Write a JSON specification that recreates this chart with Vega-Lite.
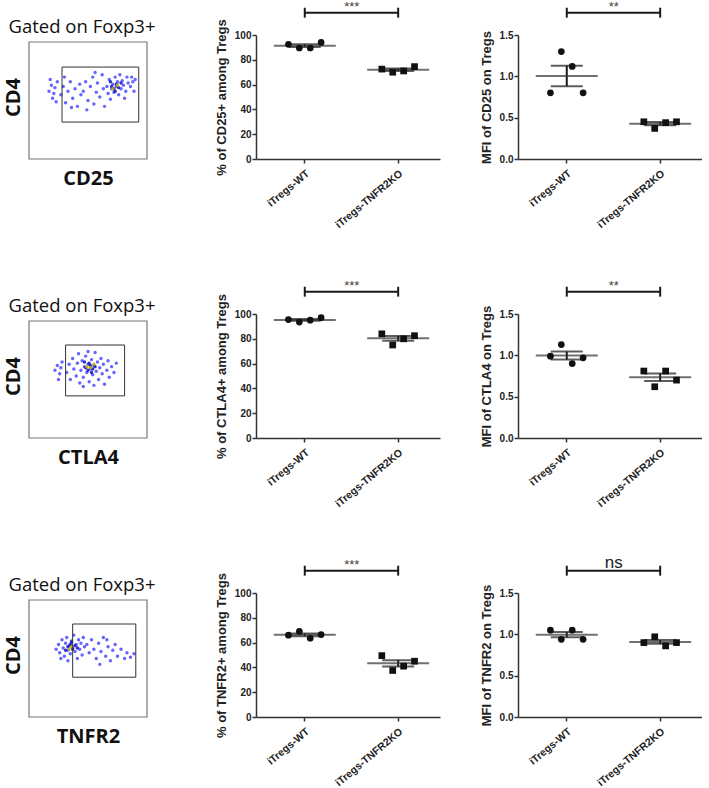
{
"$schema": "https://vega.github.io/schema/vega-lite/v6.json",
"padding": {"left": 3, "top": 0, "right": 0, "bottom": 0},
"background": "white",
"config": {
 "view": {"stroke": null},
 "font": "Liberation Sans",
 "axis": {"grid": false, "labelOverlap": false, "domainColor": "#333", "domainWidth": 1.5, "tickColor": "#333", "tickWidth": 1.5, "tickSize": 4, "labelFont": "Liberation Sans", "labelFontWeight": "bold", "labelFontSize": 10, "labelColor": "#222", "labelPadding": 1, "titleFont": "Liberation Sans", "titleFontSize": 13, "titleFontWeight": "bold", "titleColor": "#222", "titlePadding": 6}
},
"datasets": {
 "stats": [
  {"panel":"CD25pct","group":"iTregs-WT","rep":"a","v":92.5},{"panel":"CD25pct","group":"iTregs-WT","rep":"b","v":89.5},{"panel":"CD25pct","group":"iTregs-WT","rep":"c","v":89.5},{"panel":"CD25pct","group":"iTregs-WT","rep":"d","v":94},
  {"panel":"CD25pct","group":"iTregs-TNFR2KO","rep":"a","v":72.5},{"panel":"CD25pct","group":"iTregs-TNFR2KO","rep":"b","v":70},{"panel":"CD25pct","group":"iTregs-TNFR2KO","rep":"c","v":71},{"panel":"CD25pct","group":"iTregs-TNFR2KO","rep":"d","v":74.5},
  {"panel":"CD25mfi","group":"iTregs-WT","rep":"a","v":0.80},{"panel":"CD25mfi","group":"iTregs-WT","rep":"b","v":1.30},{"panel":"CD25mfi","group":"iTregs-WT","rep":"c","v":1.12},{"panel":"CD25mfi","group":"iTregs-WT","rep":"d","v":0.80},
  {"panel":"CD25mfi","group":"iTregs-TNFR2KO","rep":"a","v":0.45},{"panel":"CD25mfi","group":"iTregs-TNFR2KO","rep":"b","v":0.37},{"panel":"CD25mfi","group":"iTregs-TNFR2KO","rep":"c","v":0.44},{"panel":"CD25mfi","group":"iTregs-TNFR2KO","rep":"d","v":0.45},
  {"panel":"CTLA4pct","group":"iTregs-WT","rep":"a","v":95.5},{"panel":"CTLA4pct","group":"iTregs-WT","rep":"b","v":93.5},{"panel":"CTLA4pct","group":"iTregs-WT","rep":"c","v":95},{"panel":"CTLA4pct","group":"iTregs-WT","rep":"d","v":97},
  {"panel":"CTLA4pct","group":"iTregs-TNFR2KO","rep":"a","v":84},{"panel":"CTLA4pct","group":"iTregs-TNFR2KO","rep":"b","v":75},{"panel":"CTLA4pct","group":"iTregs-TNFR2KO","rep":"c","v":80},{"panel":"CTLA4pct","group":"iTregs-TNFR2KO","rep":"d","v":82.5},
  {"panel":"CTLA4mfi","group":"iTregs-WT","rep":"a","v":0.99},{"panel":"CTLA4mfi","group":"iTregs-WT","rep":"b","v":1.13},{"panel":"CTLA4mfi","group":"iTregs-WT","rep":"c","v":0.90},{"panel":"CTLA4mfi","group":"iTregs-WT","rep":"d","v":0.97},
  {"panel":"CTLA4mfi","group":"iTregs-TNFR2KO","rep":"a","v":0.81},{"panel":"CTLA4mfi","group":"iTregs-TNFR2KO","rep":"b","v":0.62},{"panel":"CTLA4mfi","group":"iTregs-TNFR2KO","rep":"c","v":0.81},{"panel":"CTLA4mfi","group":"iTregs-TNFR2KO","rep":"d","v":0.70},
  {"panel":"TNFR2pct","group":"iTregs-WT","rep":"a","v":66},{"panel":"TNFR2pct","group":"iTregs-WT","rep":"b","v":69},{"panel":"TNFR2pct","group":"iTregs-WT","rep":"c","v":63.5},{"panel":"TNFR2pct","group":"iTregs-WT","rep":"d","v":66.5},
  {"panel":"TNFR2pct","group":"iTregs-TNFR2KO","rep":"a","v":49.5},{"panel":"TNFR2pct","group":"iTregs-TNFR2KO","rep":"b","v":37.5},{"panel":"TNFR2pct","group":"iTregs-TNFR2KO","rep":"c","v":41},{"panel":"TNFR2pct","group":"iTregs-TNFR2KO","rep":"d","v":45},
  {"panel":"TNFR2mfi","group":"iTregs-WT","rep":"a","v":1.05},{"panel":"TNFR2mfi","group":"iTregs-WT","rep":"b","v":0.94},{"panel":"TNFR2mfi","group":"iTregs-WT","rep":"c","v":1.05},{"panel":"TNFR2mfi","group":"iTregs-WT","rep":"d","v":0.94},
  {"panel":"TNFR2mfi","group":"iTregs-TNFR2KO","rep":"a","v":0.90},{"panel":"TNFR2mfi","group":"iTregs-TNFR2KO","rep":"b","v":0.97},{"panel":"TNFR2mfi","group":"iTregs-TNFR2KO","rep":"c","v":0.86},{"panel":"TNFR2mfi","group":"iTregs-TNFR2KO","rep":"d","v":0.90}
 ],
 "sig": [
  {"panel":"CD25pct","group":"iTregs-WT","sig":"***"},{"panel":"CD25pct","group":"iTregs-TNFR2KO","sig":"***"},
  {"panel":"CD25mfi","group":"iTregs-WT","sig":"**"},{"panel":"CD25mfi","group":"iTregs-TNFR2KO","sig":"**"},
  {"panel":"CTLA4pct","group":"iTregs-WT","sig":"***"},{"panel":"CTLA4pct","group":"iTregs-TNFR2KO","sig":"***"},
  {"panel":"CTLA4mfi","group":"iTregs-WT","sig":"**"},{"panel":"CTLA4mfi","group":"iTregs-TNFR2KO","sig":"**"},
  {"panel":"TNFR2pct","group":"iTregs-WT","sig":"***"},{"panel":"TNFR2pct","group":"iTregs-TNFR2KO","sig":"***"},
  {"panel":"TNFR2mfi","group":"iTregs-WT","sig":"ns"},{"panel":"TNFR2mfi","group":"iTregs-TNFR2KO","sig":"ns"}
 ],
 "gates": [
  {"f":"CD25","x1":28,"x2":93,"y1":31.6,"y2":78.6},
  {"f":"CTLA4","x1":31,"x2":81,"y1":36,"y2":79.5},
  {"f":"TNFR2","x1":37,"x2":90.5,"y1":34,"y2":79.5}
 ],
 "flow": [
  {"f":"CD25","x":17,"y":58,"d":1},{"f":"CD25","x":19,"y":63,"d":1},{"f":"CD25","x":21,"y":56,"d":1},{"f":"CD25","x":22,"y":61,"d":1},{"f":"CD25","x":20,"y":52,"d":1},{"f":"CD25","x":24,"y":66,"d":1},{"f":"CD25","x":18,"y":68,"d":1},{"f":"CD25","x":23,"y":49,"d":1},{"f":"CD25","x":27,"y":55,"d":1},{"f":"CD25","x":29,"y":62,"d":1},{"f":"CD25","x":31,"y":48,"d":1},{"f":"CD25","x":33,"y":58,"d":1},{"f":"CD25","x":35,"y":66,"d":1},{"f":"CD25","x":37,"y":52,"d":1},{"f":"CD25","x":39,"y":60,"d":1},{"f":"CD25","x":41,"y":45,"d":1},{"f":"CD25","x":43,"y":64,"d":1},{"f":"CD25","x":44,"y":55,"d":1},{"f":"CD25","x":30,"y":70,"d":1},{"f":"CD25","x":36,"y":44,"d":1},{"f":"CD25","x":46,"y":58,"d":1},{"f":"CD25","x":48,"y":66,"d":1},{"f":"CD25","x":50,"y":50,"d":1},{"f":"CD25","x":52,"y":62,"d":1},{"f":"CD25","x":54,"y":70,"d":1},{"f":"CD25","x":55,"y":47,"d":1},{"f":"CD25","x":57,"y":57,"d":1},{"f":"CD25","x":58,"y":65,"d":1},{"f":"CD25","x":60,"y":53,"d":1},{"f":"CD25","x":62,"y":72,"d":1},{"f":"CD25","x":63,"y":60,"d":1},{"f":"CD25","x":64,"y":45,"d":1},{"f":"CD25","x":49,"y":42,"d":1},{"f":"CD25","x":56,"y":74,"d":1},{"f":"CD25","x":66,"y":62,"d":1},{"f":"CD25","x":67,"y":56,"d":1},{"f":"CD25","x":68,"y":68,"d":1},{"f":"CD25","x":70,"y":60,"d":1},{"f":"CD25","x":71,"y":64,"d":1},{"f":"CD25","x":72,"y":57,"d":1},{"f":"CD25","x":73,"y":70,"d":1},{"f":"CD25","x":74,"y":62,"d":1},{"f":"CD25","x":75,"y":66,"d":1},{"f":"CD25","x":76,"y":55,"d":1},{"f":"CD25","x":77,"y":72,"d":1},{"f":"CD25","x":78,"y":60,"d":1},{"f":"CD25","x":79,"y":67,"d":1},{"f":"CD25","x":80,"y":63,"d":1},{"f":"CD25","x":82,"y":58,"d":1},{"f":"CD25","x":83,"y":70,"d":1},{"f":"CD25","x":84,"y":65,"d":1},{"f":"CD25","x":69,"y":51,"d":1},{"f":"CD25","x":81,"y":52,"d":1},{"f":"CD25","x":86,"y":62,"d":1},{"f":"CD25","x":87,"y":70,"d":1},{"f":"CD25","x":88,"y":66,"d":1},{"f":"CD25","x":90,"y":68,"d":1},{"f":"CD25","x":89,"y":58,"d":1},
  {"f":"CD25","x":70,"y":62,"d":2},{"f":"CD25","x":72,"y":60,"d":2},{"f":"CD25","x":74,"y":64,"d":2},{"f":"CD25","x":76,"y":61,"d":2},{"f":"CD25","x":73,"y":58,"d":2},{"f":"CD25","x":78,"y":65,"d":2},{"f":"CD25","x":69,"y":66,"d":2},
  {"f":"CD25","x":71,"y":60,"d":3},{"f":"CD25","x":75,"y":63,"d":3},
  {"f":"CTLA4","x":22,"y":58,"d":1},{"f":"CTLA4","x":24,"y":62,"d":1},{"f":"CTLA4","x":26,"y":55,"d":1},{"f":"CTLA4","x":27,"y":60,"d":1},{"f":"CTLA4","x":25,"y":50,"d":1},{"f":"CTLA4","x":28,"y":65,"d":1},{"f":"CTLA4","x":32,"y":56,"d":1},{"f":"CTLA4","x":34,"y":63,"d":1},{"f":"CTLA4","x":35,"y":50,"d":1},{"f":"CTLA4","x":37,"y":68,"d":1},{"f":"CTLA4","x":38,"y":59,"d":1},{"f":"CTLA4","x":40,"y":53,"d":1},{"f":"CTLA4","x":41,"y":64,"d":1},{"f":"CTLA4","x":42,"y":72,"d":1},{"f":"CTLA4","x":43,"y":47,"d":1},{"f":"CTLA4","x":44,"y":58,"d":1},{"f":"CTLA4","x":45,"y":66,"d":1},{"f":"CTLA4","x":46,"y":52,"d":1},{"f":"CTLA4","x":47,"y":61,"d":1},{"f":"CTLA4","x":48,"y":70,"d":1},{"f":"CTLA4","x":49,"y":56,"d":1},{"f":"CTLA4","x":50,"y":63,"d":1},{"f":"CTLA4","x":51,"y":48,"d":1},{"f":"CTLA4","x":52,"y":59,"d":1},{"f":"CTLA4","x":53,"y":67,"d":1},{"f":"CTLA4","x":54,"y":54,"d":1},{"f":"CTLA4","x":55,"y":62,"d":1},{"f":"CTLA4","x":56,"y":73,"d":1},{"f":"CTLA4","x":57,"y":57,"d":1},{"f":"CTLA4","x":58,"y":65,"d":1},{"f":"CTLA4","x":59,"y":50,"d":1},{"f":"CTLA4","x":60,"y":60,"d":1},{"f":"CTLA4","x":61,"y":68,"d":1},{"f":"CTLA4","x":62,"y":55,"d":1},{"f":"CTLA4","x":63,"y":63,"d":1},{"f":"CTLA4","x":64,"y":46,"d":1},{"f":"CTLA4","x":66,"y":58,"d":1},{"f":"CTLA4","x":67,"y":66,"d":1},{"f":"CTLA4","x":68,"y":52,"d":1},{"f":"CTLA4","x":70,"y":61,"d":1},{"f":"CTLA4","x":72,"y":56,"d":1},{"f":"CTLA4","x":74,"y":64,"d":1},{"f":"CTLA4","x":46,"y":44,"d":1},{"f":"CTLA4","x":55,"y":45,"d":1},{"f":"CTLA4","x":50,"y":74,"d":1},
  {"f":"CTLA4","x":48,"y":60,"d":2},{"f":"CTLA4","x":50,"y":58,"d":2},{"f":"CTLA4","x":52,"y":62,"d":2},{"f":"CTLA4","x":54,"y":59,"d":2},{"f":"CTLA4","x":51,"y":64,"d":2},{"f":"CTLA4","x":53,"y":56,"d":2},{"f":"CTLA4","x":56,"y":61,"d":2},{"f":"CTLA4","x":47,"y":65,"d":2},
  {"f":"CTLA4","x":52,"y":60,"d":3},{"f":"CTLA4","x":55,"y":63,"d":3},{"f":"CTLA4","x":49,"y":61,"d":3},
  {"f":"TNFR2","x":23,"y":58,"d":1},{"f":"TNFR2","x":25,"y":62,"d":1},{"f":"TNFR2","x":26,"y":55,"d":1},{"f":"TNFR2","x":28,"y":66,"d":1},{"f":"TNFR2","x":29,"y":59,"d":1},{"f":"TNFR2","x":30,"y":52,"d":1},{"f":"TNFR2","x":31,"y":63,"d":1},{"f":"TNFR2","x":32,"y":68,"d":1},{"f":"TNFR2","x":33,"y":57,"d":1},{"f":"TNFR2","x":34,"y":61,"d":1},{"f":"TNFR2","x":35,"y":54,"d":1},{"f":"TNFR2","x":36,"y":65,"d":1},{"f":"TNFR2","x":37,"y":59,"d":1},{"f":"TNFR2","x":38,"y":70,"d":1},{"f":"TNFR2","x":39,"y":56,"d":1},{"f":"TNFR2","x":40,"y":62,"d":1},{"f":"TNFR2","x":41,"y":50,"d":1},{"f":"TNFR2","x":42,"y":66,"d":1},{"f":"TNFR2","x":43,"y":58,"d":1},{"f":"TNFR2","x":44,"y":63,"d":1},{"f":"TNFR2","x":45,"y":53,"d":1},{"f":"TNFR2","x":46,"y":68,"d":1},{"f":"TNFR2","x":47,"y":60,"d":1},{"f":"TNFR2","x":27,"y":50,"d":1},{"f":"TNFR2","x":33,"y":48,"d":1},{"f":"TNFR2","x":49,"y":62,"d":1},{"f":"TNFR2","x":51,"y":55,"d":1},{"f":"TNFR2","x":53,"y":66,"d":1},{"f":"TNFR2","x":55,"y":58,"d":1},{"f":"TNFR2","x":57,"y":50,"d":1},{"f":"TNFR2","x":59,"y":63,"d":1},{"f":"TNFR2","x":61,"y":56,"d":1},{"f":"TNFR2","x":63,"y":68,"d":1},{"f":"TNFR2","x":65,"y":52,"d":1},{"f":"TNFR2","x":67,"y":60,"d":1},{"f":"TNFR2","x":69,"y":48,"d":1},{"f":"TNFR2","x":71,"y":57,"d":1},{"f":"TNFR2","x":73,"y":62,"d":1},{"f":"TNFR2","x":75,"y":52,"d":1},{"f":"TNFR2","x":78,"y":58,"d":1},{"f":"TNFR2","x":81,"y":50,"d":1},{"f":"TNFR2","x":83,"y":55,"d":1},{"f":"TNFR2","x":86,"y":51,"d":1},{"f":"TNFR2","x":89,"y":54,"d":1},{"f":"TNFR2","x":60,"y":45,"d":1},{"f":"TNFR2","x":66,"y":66,"d":1},
  {"f":"TNFR2","x":33,"y":60,"d":2},{"f":"TNFR2","x":35,"y":62,"d":2},{"f":"TNFR2","x":37,"y":58,"d":2},{"f":"TNFR2","x":39,"y":61,"d":2},{"f":"TNFR2","x":36,"y":64,"d":2},{"f":"TNFR2","x":31,"y":57,"d":2},{"f":"TNFR2","x":41,"y":59,"d":2},
  {"f":"TNFR2","x":36,"y":60,"d":3},{"f":"TNFR2","x":34,"y":58,"d":3}
 ]
},
"spacing": 44,
"vconcat": [
 {"spacing": 48, "vconcat": [
 {"spacing": 59, "hconcat": [
  {"width": 118, "height": 124,
   "title": {"text": "Gated on Foxp3+", "font": "Open Sans", "fontSize": 18.5, "fontWeight": "normal", "color": "#111", "offset": -1, "dx": -6},
   "layer": [
    {"data": {"name": "flow"}, "transform": [{"filter": "datum.f === 'CD25'"}], "mark": {"type": "circle", "size": 12, "opacity": 0.85},
     "encoding": {"x": {"field": "x", "type": "quantitative", "scale": {"domain": [0, 100], "nice": false, "zero": false}, "axis": {"title": "CD25", "labels": false, "ticks": false, "domain": false, "titleFont": "Open Sans", "titleFontSize": 20, "titleFontWeight": "bold", "titleColor": "#111", "titlePadding": 9}},
                  "y": {"field": "y", "type": "quantitative", "scale": {"domain": [0, 106], "nice": false, "zero": false}, "axis": {"title": "CD4", "labels": false, "ticks": false, "domain": false, "titleFont": "Open Sans", "titleFontSize": 20, "titleFontWeight": "bold", "titleColor": "#111", "titlePadding": 6}},
                  "color": {"field": "d", "type": "ordinal", "scale": {"domain": [1, 2, 3], "range": ["#4a4aff", "#1010c0", "#c8b400"]}, "legend": null}}},
    {"data": {"values": [{}]}, "mark": {"type": "rect", "fill": "transparent", "stroke": "#777", "strokeWidth": 1.2},
     "encoding": {"x": {"datum": 0, "type": "quantitative", "title": "CD25"}, "x2": {"datum": 100},
                  "y": {"datum": 0, "type": "quantitative", "title": "CD4"}, "y2": {"datum": 100}}},
    {"data": {"name": "gates"}, "transform": [{"filter": "datum.f === 'CD25'"}], "mark": {"type": "rect", "fill": "transparent", "stroke": "#333", "strokeWidth": 1},
     "encoding": {"x": {"field": "x1", "type": "quantitative", "title": "CD25"}, "x2": {"field": "x2"}, "y": {"field": "y1", "type": "quantitative", "title": "CD4"}, "y2": {"field": "y2"}}}
   ]},
  {"spacing": 40, "hconcat": [
   {"width": 184, "height": 124,
    "encoding": {"x": {"field": "group", "type": "nominal", "scale": {"type": "band", "domain": ["iTregs-WT", "iTregs-TNFR2KO"], "paddingInner": 0.65, "paddingOuter": 0.31, "align": 0.56}, "axis": {"title": null, "labelAngle": -40, "labelFontSize": 10.5, "labelPadding": 5}}},
    "layer": [
     {"data": {"name": "stats"}, "transform": [{"filter": "datum.panel === 'CD25pct'"}], "mark": {"type": "errorbar", "extent": "stderr", "color": "#1a1a1a", "thickness": 2, "size": 32, "ticks": true},
      "encoding": {"y": {"field": "v", "type": "quantitative", "title": "% of CD25+ among Tregs", "scale": {"domain": [0, 100], "nice": false}, "axis": {"values": [0, 20, 40, 60, 80, 100], "labelOverlap": false}}}},
     {"data": {"name": "stats"}, "transform": [{"filter": "datum.panel === 'CD25pct'"}, {"aggregate": [{"op": "mean", "field": "v", "as": "v"}], "groupby": ["group"]}], "mark": {"type": "tick", "size": 62, "thickness": 2, "color": "#333"},
      "encoding": {"y": {"field": "v", "type": "quantitative", "title": "% of CD25+ among Tregs", "scale": {"domain": [0, 100], "nice": false}, "axis": {"values": [0, 20, 40, 60, 80, 100], "labelOverlap": false}}}},
     {"data": {"name": "stats"}, "transform": [{"filter": "datum.panel === 'CD25pct'"}], "mark": {"type": "point", "filled": true, "size": 45, "opacity": 1, "color": "#111"},
      "encoding": {"y": {"field": "v", "type": "quantitative", "title": "% of CD25+ among Tregs", "scale": {"domain": [0, 100], "nice": false}, "axis": {"values": [0, 20, 40, 60, 80, 100], "labelOverlap": false}}, "shape": {"field": "group", "type": "nominal", "scale": {"domain": ["iTregs-WT", "iTregs-TNFR2KO"], "range": ["circle", "square"]}, "legend": null}, "xOffset": {"field": "rep", "type": "nominal", "scale": {"paddingInner": 0, "paddingOuter": 0}}}},
     {"data": {"name": "sig"}, "transform": [{"filter": "datum.panel === 'CD25pct'"}], "mark": {"type": "line", "color": "#1a1a1a", "strokeWidth": 2, "clip": false}, "encoding": {"y": {"datum": 118, "type": "quantitative", "title": "% of CD25+ among Tregs", "scale": {"domain": [0, 100], "nice": false}, "axis": {"values": [0, 20, 40, 60, 80, 100], "labelOverlap": false}}}},
     {"data": {"name": "sig"}, "transform": [{"filter": "datum.panel === 'CD25pct'"}], "mark": {"type": "rule", "color": "#1a1a1a", "strokeWidth": 2, "clip": false}, "encoding": {"y": {"datum": 114, "type": "quantitative", "title": "% of CD25+ among Tregs", "scale": {"domain": [0, 100], "nice": false}, "axis": {"values": [0, 20, 40, 60, 80, 100], "labelOverlap": false}}, "y2": {"datum": 122}}},
     {"data": {"name": "sig"}, "transform": [{"filter": "datum.panel === 'CD25pct' && datum.group === 'iTregs-WT'"}], "mark": {"type": "text", "dx": 47, "fontSize": 13, "color": "#444", "baseline": "alphabetic", "clip": false}, "encoding": {"y": {"datum": 119.6, "type": "quantitative", "title": "% of CD25+ among Tregs", "scale": {"domain": [0, 100], "nice": false}, "axis": {"values": [0, 20, 40, 60, 80, 100], "labelOverlap": false}}, "text": {"field": "sig"}}}
    ]},
   {"width": 184, "height": 124,
    "encoding": {"x": {"field": "group", "type": "nominal", "scale": {"type": "band", "domain": ["iTregs-WT", "iTregs-TNFR2KO"], "paddingInner": 0.65, "paddingOuter": 0.31, "align": 0.56}, "axis": {"title": null, "labelAngle": -40, "labelFontSize": 10.5, "labelPadding": 5}}},
    "layer": [
     {"data": {"name": "stats"}, "transform": [{"filter": "datum.panel === 'CD25mfi'"}], "mark": {"type": "errorbar", "extent": "stderr", "color": "#1a1a1a", "thickness": 2, "size": 32, "ticks": true},
      "encoding": {"y": {"field": "v", "type": "quantitative", "title": "MFI of CD25 on Tregs", "scale": {"domain": [0, 1.5], "nice": false}, "axis": {"values": [0, 0.5, 1, 1.5], "format": ".1f"}}}},
     {"data": {"name": "stats"}, "transform": [{"filter": "datum.panel === 'CD25mfi'"}, {"aggregate": [{"op": "mean", "field": "v", "as": "v"}], "groupby": ["group"]}], "mark": {"type": "tick", "size": 62, "thickness": 2, "color": "#333"},
      "encoding": {"y": {"field": "v", "type": "quantitative", "title": "MFI of CD25 on Tregs", "scale": {"domain": [0, 1.5], "nice": false}, "axis": {"values": [0, 0.5, 1, 1.5], "format": ".1f"}}}},
     {"data": {"name": "stats"}, "transform": [{"filter": "datum.panel === 'CD25mfi'"}], "mark": {"type": "point", "filled": true, "size": 45, "opacity": 1, "color": "#111"},
      "encoding": {"y": {"field": "v", "type": "quantitative", "title": "MFI of CD25 on Tregs", "scale": {"domain": [0, 1.5], "nice": false}, "axis": {"values": [0, 0.5, 1, 1.5], "format": ".1f"}}, "shape": {"field": "group", "type": "nominal", "scale": {"domain": ["iTregs-WT", "iTregs-TNFR2KO"], "range": ["circle", "square"]}, "legend": null}, "xOffset": {"field": "rep", "type": "nominal", "scale": {"paddingInner": 0, "paddingOuter": 0}}}},
     {"data": {"name": "sig"}, "transform": [{"filter": "datum.panel === 'CD25mfi'"}], "mark": {"type": "line", "color": "#1a1a1a", "strokeWidth": 2, "clip": false}, "encoding": {"y": {"datum": 1.77, "type": "quantitative", "title": "MFI of CD25 on Tregs", "scale": {"domain": [0, 1.5], "nice": false}, "axis": {"values": [0, 0.5, 1, 1.5], "format": ".1f"}}}},
     {"data": {"name": "sig"}, "transform": [{"filter": "datum.panel === 'CD25mfi'"}], "mark": {"type": "rule", "color": "#1a1a1a", "strokeWidth": 2, "clip": false}, "encoding": {"y": {"datum": 1.71, "type": "quantitative", "title": "MFI of CD25 on Tregs", "scale": {"domain": [0, 1.5], "nice": false}, "axis": {"values": [0, 0.5, 1, 1.5], "format": ".1f"}}, "y2": {"datum": 1.83}}},
     {"data": {"name": "sig"}, "transform": [{"filter": "datum.panel === 'CD25mfi' && datum.group === 'iTregs-WT'"}], "mark": {"type": "text", "dx": 47, "fontSize": 13, "color": "#444", "baseline": "alphabetic", "clip": false}, "encoding": {"y": {"datum": 1.795, "type": "quantitative", "title": "MFI of CD25 on Tregs", "scale": {"domain": [0, 1.5], "nice": false}, "axis": {"values": [0, 0.5, 1, 1.5], "format": ".1f"}}, "text": {"field": "sig"}}}
    ]}
  ]}
 ]},
 {"spacing": 59, "hconcat": [
  {"width": 118, "height": 124,
   "title": {"text": "Gated on Foxp3+", "font": "Open Sans", "fontSize": 18.5, "fontWeight": "normal", "color": "#111", "offset": -1, "dx": -6},
   "layer": [
    {"data": {"name": "flow"}, "transform": [{"filter": "datum.f === 'CTLA4'"}], "mark": {"type": "circle", "size": 12, "opacity": 0.85},
     "encoding": {"x": {"field": "x", "type": "quantitative", "scale": {"domain": [0, 100], "nice": false, "zero": false}, "axis": {"title": "CTLA4", "labels": false, "ticks": false, "domain": false, "titleFont": "Open Sans", "titleFontSize": 20, "titleFontWeight": "bold", "titleColor": "#111", "titlePadding": 9}},
                  "y": {"field": "y", "type": "quantitative", "scale": {"domain": [0, 106], "nice": false, "zero": false}, "axis": {"title": "CD4", "labels": false, "ticks": false, "domain": false, "titleFont": "Open Sans", "titleFontSize": 20, "titleFontWeight": "bold", "titleColor": "#111", "titlePadding": 6}},
                  "color": {"field": "d", "type": "ordinal", "scale": {"domain": [1, 2, 3], "range": ["#4a4aff", "#1010c0", "#7cc040"]}, "legend": null}}},
    {"data": {"values": [{}]}, "mark": {"type": "rect", "fill": "transparent", "stroke": "#777", "strokeWidth": 1.2},
     "encoding": {"x": {"datum": 0, "type": "quantitative", "title": "CTLA4"}, "x2": {"datum": 100},
                  "y": {"datum": 0, "type": "quantitative", "title": "CD4"}, "y2": {"datum": 100}}},
    {"data": {"name": "gates"}, "transform": [{"filter": "datum.f === 'CTLA4'"}], "mark": {"type": "rect", "fill": "transparent", "stroke": "#333", "strokeWidth": 1},
     "encoding": {"x": {"field": "x1", "type": "quantitative", "title": "CTLA4"}, "x2": {"field": "x2"}, "y": {"field": "y1", "type": "quantitative", "title": "CD4"}, "y2": {"field": "y2"}}}
   ]},
  {"spacing": 40, "hconcat": [
   {"width": 184, "height": 124,
    "encoding": {"x": {"field": "group", "type": "nominal", "scale": {"type": "band", "domain": ["iTregs-WT", "iTregs-TNFR2KO"], "paddingInner": 0.65, "paddingOuter": 0.31, "align": 0.56}, "axis": {"title": null, "labelAngle": -40, "labelFontSize": 10.5, "labelPadding": 5}}},
    "layer": [
     {"data": {"name": "stats"}, "transform": [{"filter": "datum.panel === 'CTLA4pct'"}], "mark": {"type": "errorbar", "extent": "stderr", "color": "#1a1a1a", "thickness": 2, "size": 32, "ticks": true},
      "encoding": {"y": {"field": "v", "type": "quantitative", "title": "% of CTLA4+ among Tregs", "scale": {"domain": [0, 100], "nice": false}, "axis": {"values": [0, 20, 40, 60, 80, 100], "labelOverlap": false}}}},
     {"data": {"name": "stats"}, "transform": [{"filter": "datum.panel === 'CTLA4pct'"}, {"aggregate": [{"op": "mean", "field": "v", "as": "v"}], "groupby": ["group"]}], "mark": {"type": "tick", "size": 62, "thickness": 2, "color": "#333"},
      "encoding": {"y": {"field": "v", "type": "quantitative", "title": "% of CTLA4+ among Tregs", "scale": {"domain": [0, 100], "nice": false}, "axis": {"values": [0, 20, 40, 60, 80, 100], "labelOverlap": false}}}},
     {"data": {"name": "stats"}, "transform": [{"filter": "datum.panel === 'CTLA4pct'"}], "mark": {"type": "point", "filled": true, "size": 45, "opacity": 1, "color": "#111"},
      "encoding": {"y": {"field": "v", "type": "quantitative", "title": "% of CTLA4+ among Tregs", "scale": {"domain": [0, 100], "nice": false}, "axis": {"values": [0, 20, 40, 60, 80, 100], "labelOverlap": false}}, "shape": {"field": "group", "type": "nominal", "scale": {"domain": ["iTregs-WT", "iTregs-TNFR2KO"], "range": ["circle", "square"]}, "legend": null}, "xOffset": {"field": "rep", "type": "nominal", "scale": {"paddingInner": 0, "paddingOuter": 0}}}},
     {"data": {"name": "sig"}, "transform": [{"filter": "datum.panel === 'CTLA4pct'"}], "mark": {"type": "line", "color": "#1a1a1a", "strokeWidth": 2, "clip": false}, "encoding": {"y": {"datum": 118, "type": "quantitative", "title": "% of CTLA4+ among Tregs", "scale": {"domain": [0, 100], "nice": false}, "axis": {"values": [0, 20, 40, 60, 80, 100], "labelOverlap": false}}}},
     {"data": {"name": "sig"}, "transform": [{"filter": "datum.panel === 'CTLA4pct'"}], "mark": {"type": "rule", "color": "#1a1a1a", "strokeWidth": 2, "clip": false}, "encoding": {"y": {"datum": 114, "type": "quantitative", "title": "% of CTLA4+ among Tregs", "scale": {"domain": [0, 100], "nice": false}, "axis": {"values": [0, 20, 40, 60, 80, 100], "labelOverlap": false}}, "y2": {"datum": 122}}},
     {"data": {"name": "sig"}, "transform": [{"filter": "datum.panel === 'CTLA4pct' && datum.group === 'iTregs-WT'"}], "mark": {"type": "text", "dx": 47, "fontSize": 13, "color": "#444", "baseline": "alphabetic", "clip": false}, "encoding": {"y": {"datum": 119.6, "type": "quantitative", "title": "% of CTLA4+ among Tregs", "scale": {"domain": [0, 100], "nice": false}, "axis": {"values": [0, 20, 40, 60, 80, 100], "labelOverlap": false}}, "text": {"field": "sig"}}}
    ]},
   {"width": 184, "height": 124,
    "encoding": {"x": {"field": "group", "type": "nominal", "scale": {"type": "band", "domain": ["iTregs-WT", "iTregs-TNFR2KO"], "paddingInner": 0.65, "paddingOuter": 0.31, "align": 0.56}, "axis": {"title": null, "labelAngle": -40, "labelFontSize": 10.5, "labelPadding": 5}}},
    "layer": [
     {"data": {"name": "stats"}, "transform": [{"filter": "datum.panel === 'CTLA4mfi'"}], "mark": {"type": "errorbar", "extent": "stderr", "color": "#1a1a1a", "thickness": 2, "size": 32, "ticks": true},
      "encoding": {"y": {"field": "v", "type": "quantitative", "title": "MFI of CTLA4 on Tregs", "scale": {"domain": [0, 1.5], "nice": false}, "axis": {"values": [0, 0.5, 1, 1.5], "format": ".1f"}}}},
     {"data": {"name": "stats"}, "transform": [{"filter": "datum.panel === 'CTLA4mfi'"}, {"aggregate": [{"op": "mean", "field": "v", "as": "v"}], "groupby": ["group"]}], "mark": {"type": "tick", "size": 62, "thickness": 2, "color": "#333"},
      "encoding": {"y": {"field": "v", "type": "quantitative", "title": "MFI of CTLA4 on Tregs", "scale": {"domain": [0, 1.5], "nice": false}, "axis": {"values": [0, 0.5, 1, 1.5], "format": ".1f"}}}},
     {"data": {"name": "stats"}, "transform": [{"filter": "datum.panel === 'CTLA4mfi'"}], "mark": {"type": "point", "filled": true, "size": 45, "opacity": 1, "color": "#111"},
      "encoding": {"y": {"field": "v", "type": "quantitative", "title": "MFI of CTLA4 on Tregs", "scale": {"domain": [0, 1.5], "nice": false}, "axis": {"values": [0, 0.5, 1, 1.5], "format": ".1f"}}, "shape": {"field": "group", "type": "nominal", "scale": {"domain": ["iTregs-WT", "iTregs-TNFR2KO"], "range": ["circle", "square"]}, "legend": null}, "xOffset": {"field": "rep", "type": "nominal", "scale": {"paddingInner": 0, "paddingOuter": 0}}}},
     {"data": {"name": "sig"}, "transform": [{"filter": "datum.panel === 'CTLA4mfi'"}], "mark": {"type": "line", "color": "#1a1a1a", "strokeWidth": 2, "clip": false}, "encoding": {"y": {"datum": 1.77, "type": "quantitative", "title": "MFI of CTLA4 on Tregs", "scale": {"domain": [0, 1.5], "nice": false}, "axis": {"values": [0, 0.5, 1, 1.5], "format": ".1f"}}}},
     {"data": {"name": "sig"}, "transform": [{"filter": "datum.panel === 'CTLA4mfi'"}], "mark": {"type": "rule", "color": "#1a1a1a", "strokeWidth": 2, "clip": false}, "encoding": {"y": {"datum": 1.71, "type": "quantitative", "title": "MFI of CTLA4 on Tregs", "scale": {"domain": [0, 1.5], "nice": false}, "axis": {"values": [0, 0.5, 1, 1.5], "format": ".1f"}}, "y2": {"datum": 1.83}}},
     {"data": {"name": "sig"}, "transform": [{"filter": "datum.panel === 'CTLA4mfi' && datum.group === 'iTregs-WT'"}], "mark": {"type": "text", "dx": 47, "fontSize": 13, "color": "#444", "baseline": "alphabetic", "clip": false}, "encoding": {"y": {"datum": 1.795, "type": "quantitative", "title": "MFI of CTLA4 on Tregs", "scale": {"domain": [0, 1.5], "nice": false}, "axis": {"values": [0, 0.5, 1, 1.5], "format": ".1f"}}, "text": {"field": "sig"}}}
    ]}
  ]}
 ]}
 ]},
 {"spacing": 59, "hconcat": [
  {"width": 118, "height": 124,
   "title": {"text": "Gated on Foxp3+", "font": "Open Sans", "fontSize": 18.5, "fontWeight": "normal", "color": "#111", "offset": -1, "dx": -6},
   "layer": [
    {"data": {"name": "flow"}, "transform": [{"filter": "datum.f === 'TNFR2'"}], "mark": {"type": "circle", "size": 12, "opacity": 0.85},
     "encoding": {"x": {"field": "x", "type": "quantitative", "scale": {"domain": [0, 100], "nice": false, "zero": false}, "axis": {"title": "TNFR2", "labels": false, "ticks": false, "domain": false, "titleFont": "Open Sans", "titleFontSize": 20, "titleFontWeight": "bold", "titleColor": "#111", "titlePadding": 9}},
                  "y": {"field": "y", "type": "quantitative", "scale": {"domain": [0, 106], "nice": false, "zero": false}, "axis": {"title": "CD4", "labels": false, "ticks": false, "domain": false, "titleFont": "Open Sans", "titleFontSize": 20, "titleFontWeight": "bold", "titleColor": "#111", "titlePadding": 6}},
                  "color": {"field": "d", "type": "ordinal", "scale": {"domain": [1, 2, 3], "range": ["#4a4aff", "#1010c0", "#c8b400"]}, "legend": null}}},
    {"data": {"values": [{}]}, "mark": {"type": "rect", "fill": "transparent", "stroke": "#777", "strokeWidth": 1.2},
     "encoding": {"x": {"datum": 0, "type": "quantitative", "title": "TNFR2"}, "x2": {"datum": 100},
                  "y": {"datum": 0, "type": "quantitative", "title": "CD4"}, "y2": {"datum": 100}}},
    {"data": {"name": "gates"}, "transform": [{"filter": "datum.f === 'TNFR2'"}], "mark": {"type": "rect", "fill": "transparent", "stroke": "#333", "strokeWidth": 1},
     "encoding": {"x": {"field": "x1", "type": "quantitative", "title": "TNFR2"}, "x2": {"field": "x2"}, "y": {"field": "y1", "type": "quantitative", "title": "CD4"}, "y2": {"field": "y2"}}}
   ]},
  {"spacing": 40, "hconcat": [
   {"width": 184, "height": 124,
    "encoding": {"x": {"field": "group", "type": "nominal", "scale": {"type": "band", "domain": ["iTregs-WT", "iTregs-TNFR2KO"], "paddingInner": 0.65, "paddingOuter": 0.31, "align": 0.56}, "axis": {"title": null, "labelAngle": -40, "labelFontSize": 10.5, "labelPadding": 5}}},
    "layer": [
     {"data": {"name": "stats"}, "transform": [{"filter": "datum.panel === 'TNFR2pct'"}], "mark": {"type": "errorbar", "extent": "stderr", "color": "#1a1a1a", "thickness": 2, "size": 32, "ticks": true},
      "encoding": {"y": {"field": "v", "type": "quantitative", "title": "% of TNFR2+ among Tregs", "scale": {"domain": [0, 100], "nice": false}, "axis": {"values": [0, 20, 40, 60, 80, 100], "labelOverlap": false}}}},
     {"data": {"name": "stats"}, "transform": [{"filter": "datum.panel === 'TNFR2pct'"}, {"aggregate": [{"op": "mean", "field": "v", "as": "v"}], "groupby": ["group"]}], "mark": {"type": "tick", "size": 62, "thickness": 2, "color": "#333"},
      "encoding": {"y": {"field": "v", "type": "quantitative", "title": "% of TNFR2+ among Tregs", "scale": {"domain": [0, 100], "nice": false}, "axis": {"values": [0, 20, 40, 60, 80, 100], "labelOverlap": false}}}},
     {"data": {"name": "stats"}, "transform": [{"filter": "datum.panel === 'TNFR2pct'"}], "mark": {"type": "point", "filled": true, "size": 45, "opacity": 1, "color": "#111"},
      "encoding": {"y": {"field": "v", "type": "quantitative", "title": "% of TNFR2+ among Tregs", "scale": {"domain": [0, 100], "nice": false}, "axis": {"values": [0, 20, 40, 60, 80, 100], "labelOverlap": false}}, "shape": {"field": "group", "type": "nominal", "scale": {"domain": ["iTregs-WT", "iTregs-TNFR2KO"], "range": ["circle", "square"]}, "legend": null}, "xOffset": {"field": "rep", "type": "nominal", "scale": {"paddingInner": 0, "paddingOuter": 0}}}},
     {"data": {"name": "sig"}, "transform": [{"filter": "datum.panel === 'TNFR2pct'"}], "mark": {"type": "line", "color": "#1a1a1a", "strokeWidth": 2, "clip": false}, "encoding": {"y": {"datum": 118, "type": "quantitative", "title": "% of TNFR2+ among Tregs", "scale": {"domain": [0, 100], "nice": false}, "axis": {"values": [0, 20, 40, 60, 80, 100], "labelOverlap": false}}}},
     {"data": {"name": "sig"}, "transform": [{"filter": "datum.panel === 'TNFR2pct'"}], "mark": {"type": "rule", "color": "#1a1a1a", "strokeWidth": 2, "clip": false}, "encoding": {"y": {"datum": 114, "type": "quantitative", "title": "% of TNFR2+ among Tregs", "scale": {"domain": [0, 100], "nice": false}, "axis": {"values": [0, 20, 40, 60, 80, 100], "labelOverlap": false}}, "y2": {"datum": 122}}},
     {"data": {"name": "sig"}, "transform": [{"filter": "datum.panel === 'TNFR2pct' && datum.group === 'iTregs-WT'"}], "mark": {"type": "text", "dx": 47, "fontSize": 13, "color": "#444", "baseline": "alphabetic", "clip": false}, "encoding": {"y": {"datum": 119.6, "type": "quantitative", "title": "% of TNFR2+ among Tregs", "scale": {"domain": [0, 100], "nice": false}, "axis": {"values": [0, 20, 40, 60, 80, 100], "labelOverlap": false}}, "text": {"field": "sig"}}}
    ]},
   {"width": 184, "height": 124,
    "encoding": {"x": {"field": "group", "type": "nominal", "scale": {"type": "band", "domain": ["iTregs-WT", "iTregs-TNFR2KO"], "paddingInner": 0.65, "paddingOuter": 0.31, "align": 0.56}, "axis": {"title": null, "labelAngle": -40, "labelFontSize": 10.5, "labelPadding": 5}}},
    "layer": [
     {"data": {"name": "stats"}, "transform": [{"filter": "datum.panel === 'TNFR2mfi'"}], "mark": {"type": "errorbar", "extent": "stderr", "color": "#1a1a1a", "thickness": 2, "size": 32, "ticks": true},
      "encoding": {"y": {"field": "v", "type": "quantitative", "title": "MFI of TNFR2 on Tregs", "scale": {"domain": [0, 1.5], "nice": false}, "axis": {"values": [0, 0.5, 1, 1.5], "format": ".1f"}}}},
     {"data": {"name": "stats"}, "transform": [{"filter": "datum.panel === 'TNFR2mfi'"}, {"aggregate": [{"op": "mean", "field": "v", "as": "v"}], "groupby": ["group"]}], "mark": {"type": "tick", "size": 62, "thickness": 2, "color": "#333"},
      "encoding": {"y": {"field": "v", "type": "quantitative", "title": "MFI of TNFR2 on Tregs", "scale": {"domain": [0, 1.5], "nice": false}, "axis": {"values": [0, 0.5, 1, 1.5], "format": ".1f"}}}},
     {"data": {"name": "stats"}, "transform": [{"filter": "datum.panel === 'TNFR2mfi'"}], "mark": {"type": "point", "filled": true, "size": 45, "opacity": 1, "color": "#111"},
      "encoding": {"y": {"field": "v", "type": "quantitative", "title": "MFI of TNFR2 on Tregs", "scale": {"domain": [0, 1.5], "nice": false}, "axis": {"values": [0, 0.5, 1, 1.5], "format": ".1f"}}, "shape": {"field": "group", "type": "nominal", "scale": {"domain": ["iTregs-WT", "iTregs-TNFR2KO"], "range": ["circle", "square"]}, "legend": null}, "xOffset": {"field": "rep", "type": "nominal", "scale": {"paddingInner": 0, "paddingOuter": 0}}}},
     {"data": {"name": "sig"}, "transform": [{"filter": "datum.panel === 'TNFR2mfi'"}], "mark": {"type": "line", "color": "#1a1a1a", "strokeWidth": 2, "clip": false}, "encoding": {"y": {"datum": 1.77, "type": "quantitative", "title": "MFI of TNFR2 on Tregs", "scale": {"domain": [0, 1.5], "nice": false}, "axis": {"values": [0, 0.5, 1, 1.5], "format": ".1f"}}}},
     {"data": {"name": "sig"}, "transform": [{"filter": "datum.panel === 'TNFR2mfi'"}], "mark": {"type": "rule", "color": "#1a1a1a", "strokeWidth": 2, "clip": false}, "encoding": {"y": {"datum": 1.71, "type": "quantitative", "title": "MFI of TNFR2 on Tregs", "scale": {"domain": [0, 1.5], "nice": false}, "axis": {"values": [0, 0.5, 1, 1.5], "format": ".1f"}}, "y2": {"datum": 1.83}}},
     {"data": {"name": "sig"}, "transform": [{"filter": "datum.panel === 'TNFR2mfi' && datum.group === 'iTregs-WT'"}], "mark": {"type": "text", "dx": 47, "fontSize": 17, "color": "#222", "baseline": "alphabetic", "clip": false}, "encoding": {"y": {"datum": 1.8, "type": "quantitative", "title": "MFI of TNFR2 on Tregs", "scale": {"domain": [0, 1.5], "nice": false}, "axis": {"values": [0, 0.5, 1, 1.5], "format": ".1f"}}, "text": {"field": "sig"}}}
    ]}
  ]}
 ]}
]
}
